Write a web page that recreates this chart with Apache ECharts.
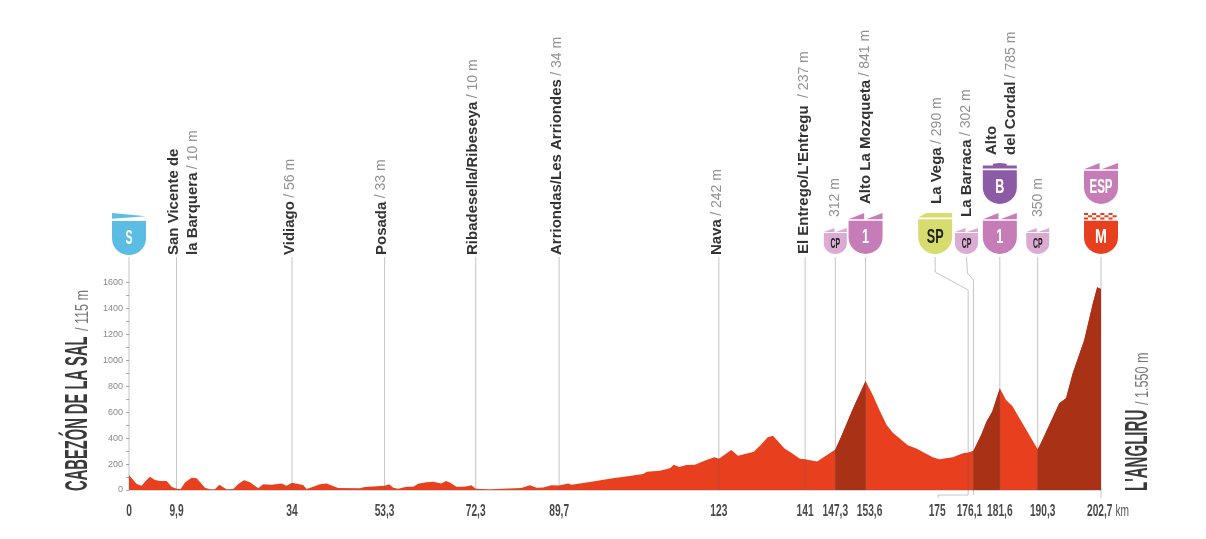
<!DOCTYPE html>
<html lang="es">
<head>
  <meta charset="UTF-8">
  <title>Perfil etapa</title>
  <style>
    html, body, #eChart {
      margin: 0;
      padding: 0;
      width: 100%;
      height: 100%;
      background: #fff;
    }
  </style>
</head>
<body>
<div id="eChart"></div>

<script src="https://cdn.jsdelivr.net/npm/echarts@6/dist/echarts.min.js"></script>
<script>
  // profile
  var profileKm = [0, 0.56, 1.6, 2.64, 3.33, 4.38, 5.42, 6.46, 7.85, 8.89, 9.9, 10.77, 11.67, 13.06, 14.1, 15.84, 16.88, 17.92, 18.83, 19.66, 20.36, 21.75, 22.79, 23.97, 25.22, 26.96, 28, 29.73, 31.82, 32.86, 34, 36.33, 37.03, 38.42, 39.81, 41.2, 42.93, 43.63, 48.15, 49.19, 53.3, 54.26, 55.1, 56.13, 57.87, 59.26, 60.3, 62.04, 63.43, 65.17, 66.07, 66.9, 68.3, 70, 71.4, 72.3, 75.2, 81.8, 83.6, 85, 86.4, 88.1, 89.7, 91.6, 92.3, 96.1, 100.9, 104.4, 107.2, 108, 110.7, 112.8, 113.6, 114.8, 116.2, 118, 120.4, 122.1, 123, 125.6, 127, 130.3, 131.9, 133.2, 134.3, 136.7, 138.1, 139.9, 141, 143.5, 145.4, 147.3, 148.5, 151, 153.6, 155.1, 156.5, 158, 159.3, 162.4, 164.2, 167.6, 169, 171.8, 173.9, 175, 176.1, 177.7, 178.8, 180, 181.6, 182.9, 184.2, 189.5, 190.2, 194, 195.4, 196.8, 199.2, 201, 201.9, 202.7];
  var profileM = [115, 90, 46, 33, 64, 103, 77, 69, 69, 26, 10, 8, 57, 95, 90, 18, 5, 5, 41, 21, 5, 8, 46, 75, 59, 13, 44, 41, 51, 33, 56, 39, 8, 26, 44, 51, 26, 15, 13, 23, 33, 44, 18, 10, 26, 26, 49, 59, 64, 51, 69, 57, 26, 26, 36, 10, 5, 15, 36, 18, 20, 36, 34, 51, 41, 62, 90, 108, 123, 141, 149, 167, 195, 177, 193, 195, 231, 252, 242, 309, 265, 296, 352, 406, 419, 321, 288, 242, 237, 219, 266, 312, 411, 630, 841, 733, 617, 501, 442, 345, 321, 252, 237, 252, 283, 290, 302, 424, 527, 604, 785, 694, 648, 315, 365, 669, 707, 900, 1157, 1440, 1564, 1550];
  var climbRanges = [[147.3, 153.6], [176.1, 181.6], [189.5, 202.7]];

  // stops along the road; the 190,3 mark sits left of its true km in the picture
  var stopKm = [0, 9.9, 34, 53.3, 72.3, 89.7, 123, 141, 147.3, 153.6, 175, 176.1, 181.6, 189.5, 202.7];
  var stopTicks = ['0', '9,9', '34', '53,3', '72,3', '89,7', '123', '141', '147,3', '153,6', '175', '176,1', '181,6', '190,3', '202,7'];

  var placeKm = [9.9, 34, 53.3, 72.3, 89.7, 123, 141, 147.3, 153.6, 175, 176.1, 181.6, 189.5];
  var placeNames = ['San Vicente de\nla Barquera', 'Vidiago', 'Posada', 'Ribadesella/Ribeseya', 'Arriondas/Les Arriondes', 'Nava', "El Entrego/L'Entregu ", '', 'Alto La Mozqueta', 'La Vega', 'La Barraca', 'Alto\ndel Cordal', ''];
  var placeAlts = ['10 m', '56 m', '33 m', '10 m', '34 m', '242 m', '237 m', '312 m', '841 m', '290 m', '302 m', '785 m', '350 m'];

  var badgeKm = [0, 147.3, 153.6, 175, 176.1, 181.6, 181.6, 189.5, 202.7, 202.7];
  var badgeText = ['S', 'CP', '1', 'SP', 'CP', '1', 'B', 'CP', 'M', 'ESP'];

  var yTicks = [0, 100, 200, 300, 400, 500, 600, 700, 800, 900, 1000, 1100, 1200, 1300, 1400, 1500, 1600];
  var yLabels = [0, 200, 400, 600, 800, 1000, 1200, 1400, 1600];

  // pixel tweaks for the drawing
  var placeDx = [7, -2, -3, -3, -2, -2, -1, 0, 0, -31, -7, 2, 0];
  var placeBottom = [255, 255, 255, 255, 255, 255, 254, 217, 204, 204, 217, 155, 217];
  var tickDx = {153.6: 4, 175: -31, 176.1: -4, 189.5: 5, 202.7: 7};
  var badgeDx = [0, 0, 0, -33, -7, 0, 0, 0, 0, 0];

  var RED = '#e8401f', DARK = '#a93216';
  var SANS = '"Liberation Sans", sans-serif';
  var TABS = 'M0 19L46 0V19ZM52 19L100 0V19ZM0 24H100V75C100 105 75 125 50 125C25 125 0 105 0 75Z';
  var badgeStyle = {
    S: {w: 34, h: 42, top: 213, fill: '#5bbde4', ink: '#fff', size: 21, sx: 0.5,
      path: 'M0 0L100 10L0 17ZM0 24H100V75C100 105 75 125 50 125C25 125 0 105 0 75Z'},
    CP: {w: 23, h: 26, top: 228, fill: '#dcabd3', ink: '#222', size: 15, sx: 0.46, path: TABS},
    '1': {w: 34, h: 41, top: 213, fill: '#c67db7', ink: '#fff', size: 21, sx: 0.6, path: TABS},
    SP: {w: 34, h: 41, top: 213, fill: '#d7dc6e', ink: '#222', size: 21, sx: 0.6,
      path: 'M0 19L24 6H100V19ZM0 24H100V75C100 105 75 125 50 125C25 125 0 105 0 75Z'},
    B: {w: 34, h: 41, top: 163, fill: '#8d5aa6', ink: '#fff', size: 21, sx: 0.6,
      path: 'M0 8H30V2L50 0L70 2V8H100V17H0ZM0 22H100V75C100 105 75 125 50 125C25 125 0 105 0 75Z'},
    ESP: {w: 34, h: 41, top: 163, fill: '#c67db7', ink: '#fff', size: 21, sx: 0.55, path: TABS},
    M: {w: 34, h: 41, top: 213, fill: '#e8401f', ink: '#fff', size: 21, sx: 0.68,
      path: 'M0 0H12V6H0ZM24 0H36V6H24ZM48 0H60V6H48ZM72 0H84V6H72ZM12 7H24V13H12ZM36 7H48V13H36ZM60 7H72V13H60ZM84 7H96V13H84ZM0 14H12V20H0ZM24 14H36V20H24ZM48 14H60V20H48ZM72 14H84V20H72ZM0 24H100V75C100 105 75 125 50 125C25 125 0 105 0 75Z'}
  };

  function areaSeries(range) {
    var data = [];
    profileKm.forEach(function (km, i) {
      if (!range || (km >= range[0] && km <= range[1])) data.push([km, profileM[i]]);
    });
    return {
      type: 'line', data: data, symbol: 'none', silent: true, animation: false,
      lineStyle: {width: 0}, areaStyle: {color: range ? DARK : RED, opacity: 1}
    };
  }

  function placeLabel(i) {
    var lines = placeNames[i] ? placeNames[i].split('\n') : [];
    var alt = (lines.length ? '/ ' : '') + placeAlts[i];
    var out = lines.map(function (l) { return '{n|' + l + '}'; });
    if (out.length) out[out.length - 1] += ' {a|' + alt + '}';
    else out.push('{a|' + alt + '}');
    return out.join('\n');
  }

  function renderRules(params, api) {
    var km = api.value(0);
    var p = api.coord([km, 0]);
    var baseY = p[1];
    var pts;
    if (km === 175) {
      pts = [[p[0] - 30, baseY + 8], [p[0] - 30, baseY + 5], [p[0], baseY + 5], [p[0], 290], [p[0] - 33, 272], [p[0] - 33, 257]];
    } else if (km === 176.1) {
      pts = [[p[0], baseY + 5], [p[0], 280], [p[0] - 6, 273], [p[0] - 7, 257]];
    } else {
      pts = [[p[0], km === 202.7 ? baseY + 8 : baseY], [p[0], 257]];
    }
    return {
      type: 'polyline', silent: true,
      shape: {points: pts},
      style: {stroke: 'rgba(90,90,90,0.35)', fill: null, lineWidth: 1}
    };
  }

  function renderPlaces(params, api) {
    var i = params.dataIndex;
    var p = api.coord([api.value(0), 0]);
    return {
      type: 'text', silent: true,
      x: p[0] + placeDx[i], y: placeBottom[i], rotation: Math.PI / 2,
      style: {
        text: placeLabel(i), align: 'left', verticalAlign: 'middle', lineHeight: 19,
        rich: {
          n: {font: 'bold 15px ' + SANS, fill: '#333', lineHeight: 19},
          a: {font: '14px ' + SANS, fill: '#919191', lineHeight: 19}
        }
      }
    };
  }

  function renderTicks(params, api) {
    var i = params.dataIndex;
    var km = api.value(0);
    var p = api.coord([km, 0]);
    var last = km === 202.7;
    return {
      type: 'text', silent: true,
      x: p[0] + (tickDx[km] || 0), y: p[1] + 21, scaleX: 0.6,
      style: {
        text: '{t|' + stopTicks[i] + '}' + (last ? '{k| km}' : ''),
        align: 'center', verticalAlign: 'middle',
        rich: {
          t: {font: 'bold 17px ' + SANS, fill: '#4a4a4a'},
          k: {font: '17px ' + SANS, fill: '#5a5a5a'}
        }
      }
    };
  }

  function renderBadges(params, api) {
    var i = params.dataIndex;
    var b = badgeStyle[badgeText[i]];
    var p = api.coord([api.value(0), 0]);
    var cx = p[0] + badgeDx[i];
    return {
      type: 'group', silent: true,
      children: [{
        type: 'path',
        shape: {pathData: b.path, layout: 'cover', x: cx - b.w / 2, y: b.top, width: b.w, height: b.h},
        style: {fill: b.fill}
      }, {
        type: 'text',
        x: cx, y: b.top + b.h * 0.6, scaleX: b.sx,
        style: {
          text: badgeText[i], align: 'center', verticalAlign: 'middle',
          font: 'bold ' + b.size + 'px ' + SANS, fill: b.ink
        }
      }]
    };
  }

  function renderEnds(params, api) {
    var km = api.value(0);
    var p = api.coord([km, 0]);
    var start = km === 0;
    var mainX = start ? 78 : 1138;
    return {
      type: 'group', silent: true,
      children: [{
        type: 'text',
        x: mainX, y: p[1] + 1, rotation: Math.PI / 2, scaleX: start ? 0.46 : 0.47,
        style: {
          text: start ? 'CABEZÓN DE LA SAL' : "L'ANGLIRU",
          align: 'left', verticalAlign: 'middle',
          font: 'bold 32px ' + SANS, fill: '#3a3a3a'
        }
      }, {
        type: 'text',
        x: mainX + 5, y: start ? 331 : 405, rotation: Math.PI / 2, scaleX: 0.7,
        style: {
          text: start ? '/ 115 m' : '/ 1.550 m',
          align: 'left', verticalAlign: 'middle',
          font: '18px ' + SANS, fill: '#777'
        }
      }]
    };
  }

  function customSeries(kms, fn) {
    return {
      type: 'custom', coordinateSystem: 'cartesian2d', silent: true, animation: false,
      data: kms.map(function (k) { return [k, 0]; }),
      encode: {x: 0, y: 1}, renderItem: fn, clip: false, z: 5
    };
  }

  window.onload = function () {
    var myChart = echarts.init(document.getElementById('eChart'), null, {renderer: 'canvas'});

    var series = [areaSeries(null)].concat(climbRanges.map(areaSeries));
    series.push(customSeries(stopKm, renderRules));
    series.push(customSeries(placeKm, renderPlaces));
    series.push(customSeries(stopKm, renderTicks));
    series.push(customSeries(badgeKm, renderBadges));
    series.push(customSeries([0, 202.7], renderEnds));

    myChart.setOption({
      animation: false,
      backgroundColor: '#fff',
      grid: {left: 129, right: 105, top: 0, bottom: 49},
      xAxis: {
        type: 'value', min: 0, max: 202.7,
        axisLine: {show: true, lineStyle: {color: '#d8d8d8'}},
        axisTick: {show: false}, axisLabel: {show: false}, splitLine: {show: false}
      },
      yAxis: {
        type: 'value', min: 0, max: 3780,
        axisLine: {show: false},
        axisTick: {show: true, length: 3, customValues: yTicks, lineStyle: {color: '#aaa'}},
        axisLabel: {
          show: true, customValues: yLabels, margin: 6,
          color: '#8a8a8a', fontSize: 9, fontFamily: '"Liberation Sans", sans-serif',
          formatter: function (v) { return String(v); }
        },
        splitLine: {show: false}
      },
      series: series
    });
  };
</script>
</body>
</html>
